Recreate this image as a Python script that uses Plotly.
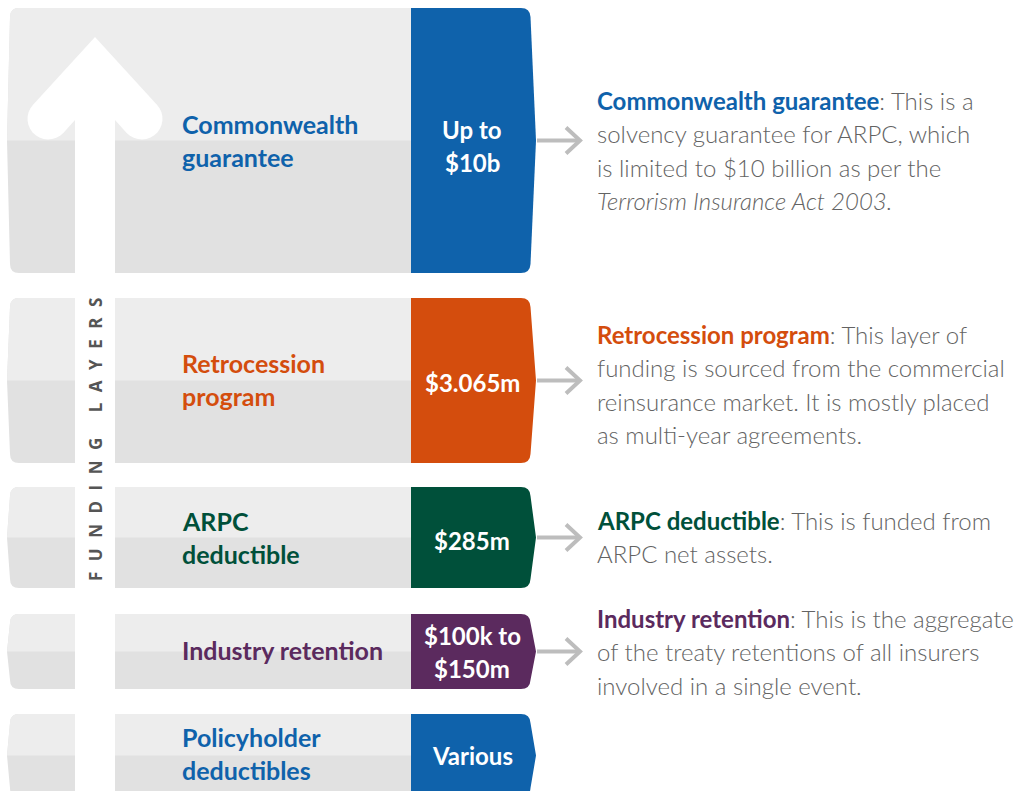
import numpy as np
import plotly.graph_objects as go

# ---------------- data ----------------
label_lines = [["Commonwealth", "guarantee"],
               ["Retrocession", "program"],
               ["ARPC", "deductible"],
               ["Industry retention"],
               ["Policyholder", "deductibles"]]
value_lines = [["Up to", "$10b"],
               ["$3.065m"],
               ["$285m"],
               ["$100k to", "$150m"],
               ["Various"]]
layer_colors = ["#0f62ab", "#d44d0d", "#00503a", "#5b2a5e", "#0f62ab"]
desc_titles = ["Commonwealth guarantee", "Retrocession program",
               "ARPC deductible", "Industry retention", None]
desc_lines = [
    [": This is a", "solvency guarantee for ARPC, which",
     "is limited to $10 billion as per the", "<i>Terrorism Insurance Act 2003.</i>"],
    [": This layer of", "funding is sourced from the commercial",
     "reinsurance market. It is mostly placed", "as multi-year agreements."],
    [": This is funded from", "ARPC net assets."],
    [": This is the aggregate", "of the treaty retentions of all insurers",
     "involved in a single event."],
    [],
]
side_title = "FUNDING LAYERS"

# ---------------- layout geometry ----------------
layer_top = [8, 298, 487, 614, 714]
layer_bot = [273, 463, 588, 689, 797]
label_center = [140, 379, 537, 650, 753]
value_center = [146, 382, 540, 652, 755]
desc_first_y = [100, 334, 520, 618]

W, H = 1028, 791
GRAY_TOP = "#ededed"
GRAY_BOT = "#e1e1e1"
TEXT_GRAY = "#636363"
FONT = "Lato"

shapes = []
annotations = []

def path_from(points, close=True):
    s = "M " + " L ".join(f"{x:.2f},{y:.2f}" for x, y in points)
    return s + (" Z" if close else "")

def arc(cx, cy, r, a0, a1, n=16):
    t = np.linspace(a0, a1, n)
    return list(zip(cx + r * np.cos(t), cy + r * np.sin(t)))

r = 9
xl, xg, xc, xtip = 10, 412, 530, 536
for i in range(5):
    top, bot = layer_top[i], layer_bot[i]
    mid = (top + bot) / 2
    full = (f"M {xl+r},{top} L {xg},{top} L {xg},{bot} L {xl+r},{bot} "
            f"Q {xl},{bot} {xl},{bot-r} L {xl-3},{mid} L {xl},{top+r} "
            f"Q {xl},{top} {xl+r},{top} Z")
    shapes.append(dict(type="path", path=full, fillcolor=GRAY_BOT,
                       line=dict(width=0), layer="below"))
    tophalf = (f"M {xl-3},{mid} L {xl},{top+r} Q {xl},{top} {xl+r},{top} "
               f"L {xg},{top} L {xg},{mid} Z")
    shapes.append(dict(type="path", path=tophalf, fillcolor=GRAY_TOP,
                       line=dict(width=0), layer="below"))
    cb = (f"M {xg-1},{top} L {xc-r},{top} Q {xc},{top} {xc+0.5},{top+r} "
          f"L {xtip},{mid} L {xc+0.5},{bot-r} Q {xc},{bot} {xc-r},{bot} "
          f"L {xg-1},{bot} Z")
    shapes.append(dict(type="path", path=cb, fillcolor=layer_colors[i],
                       line=dict(width=0), layer="below"))

    n = len(label_lines[i])
    lh = 33
    for k, t in enumerate(label_lines[i]):
        y = label_center[i] - (n - 1) * lh / 2 + k * lh
        annotations.append(dict(x=180, y=y, text=f"<b>{t}</b>", showarrow=False,
                                xanchor="left", yanchor="middle",
                                font=dict(family=FONT, size=25, color=layer_colors[i])))
    n = len(value_lines[i])
    for k, t in enumerate(value_lines[i]):
        y = value_center[i] - (n - 1) * 33 / 2 + k * 33
        annotations.append(dict(x=472, y=y, text=f"<b>{t}</b>", showarrow=False,
                                xanchor="center", yanchor="middle",
                                font=dict(family=FONT, size=24, color="white")))

    if desc_titles[i] is not None:
        shapes.append(dict(type="line", x0=537, x1=580, y0=mid, y1=mid,
                           line=dict(color="#bdbdbd", width=4)))
        shapes.append(dict(type="path",
                           path=path_from([(566, mid - 13), (580, mid), (566, mid + 13)], close=False),
                           line=dict(color="#bdbdbd", width=4)))
        for k, t in enumerate(desc_lines[i]):
            if k == 0:
                t = (f"<span style='color:{layer_colors[i]}'><b>{desc_titles[i]}</b></span>" + t)
            annotations.append(dict(x=595, y=desc_first_y[i] + k * 33.5, text=t,
                                    showarrow=False, xanchor="left", yanchor="middle",
                                    font=dict(family=FONT, size=24, color=TEXT_GRAY, weight=300)))

# ---------------- big white arrow ----------------
tip = (95, 37)
cr = 20.7
cL = (48.2, 118.8)
d = np.array([-0.682, 0.731]); nrm = np.array([0.731, 0.682])
a0 = np.arctan2(-nrm[1], -nrm[0])
a1 = np.arctan2(nrm[1], nrm[0])
a_d = np.arctan2(d[1], d[0])
if not (min(a0, a1) <= a_d <= max(a0, a1)):
    a1 = a1 + 2 * np.pi if a1 < a0 else a1 - 2 * np.pi
left_cap = arc(cL[0], cL[1], cr, a0, a1)
pts = [tip] + left_cap + [(75, 120), (75, H + 5), (115, H + 5), (115, 120)]
right_cap = [(190 - x, y) for x, y in reversed(left_cap)]
pts += right_cap
shapes.append(dict(type="path", path=path_from(pts), fillcolor="white",
                   line=dict(width=0), layer="below"))

annotations.append(dict(x=95, y=434, text=f"<span style='letter-spacing:10.5px'><b>{side_title}</b></span>",
                        showarrow=False, textangle=-90, xanchor="center", yanchor="middle",
                        font=dict(family="Open Sans", size=17, color="#555555")))

fig = go.Figure()
fig.add_trace(go.Scatter(x=[0, W], y=[0, H], mode="markers",
                         marker=dict(opacity=0), hoverinfo="skip", showlegend=False))
fig.update_layout(width=W, height=H, margin=dict(l=0, r=0, t=0, b=0),
                  paper_bgcolor="white", plot_bgcolor="white",
                  xaxis=dict(range=[0, W], visible=False, fixedrange=True),
                  yaxis=dict(range=[H, 0], visible=False, fixedrange=True),
                  shapes=shapes, annotations=annotations, showlegend=False)
fig.write_html("out.html", config={"displayModeBar": False},
               post_script="document.body.style.margin='0';document.body.style.overflow='hidden';"
                           "document.documentElement.style.overflow='hidden';")
